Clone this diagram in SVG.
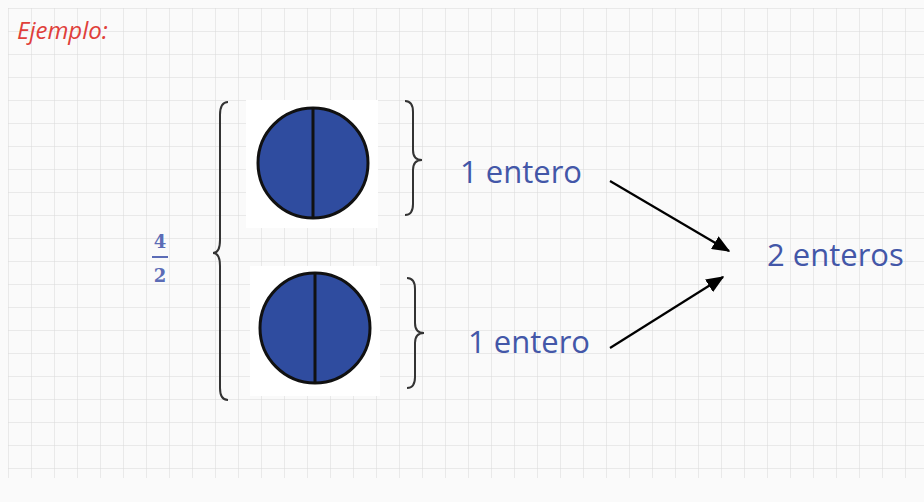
<svg xmlns="http://www.w3.org/2000/svg" width="924" height="502" viewBox="0 0 924 502">
<defs>
<pattern id="grid" x="8" y="8" width="23" height="23" patternUnits="userSpaceOnUse">
<path d="M0 0H23M0 0V23" fill="none" stroke="#d8d8d8" stroke-width="1"/>
</pattern>
<marker id="arr" viewBox="0 0 12 10" refX="11" refY="5" markerWidth="18" markerHeight="15" orient="auto" markerUnits="userSpaceOnUse">
<path d="M0 0L12 5L0 10Z" fill="#000"/>
</marker>
</defs>
<style>
.lbl{font-family:"Open Sans","Liberation Sans",sans-serif;font-size:31px;fill:#4357A8}
.frac{font-family:"DejaVu Serif","Liberation Serif",serif;font-size:18px;font-weight:bold;fill:#5B6CB6}
.circ{fill:#2F4C9F;stroke:#111;stroke-width:3}
.brace{fill:none;stroke:#333;stroke-width:2}
.conn{stroke:#000;stroke-width:2.2;fill:none}
</style>
<rect width="924" height="502" fill="#fafafa"/>
<rect x="8" y="8" width="916" height="470" fill="url(#grid)"/>
<text x="17" y="39" font-family="Open Sans, Liberation Sans, sans-serif" font-style="italic" font-size="24" fill="#E0403A">Ejemplo:</text>
<g id="fraction">
<text class="frac" x="160" y="248" text-anchor="middle">4</text>
<line x1="152" y1="257" x2="168" y2="257" stroke="#5B6CB6" stroke-width="2"/>
<text class="frac" x="160" y="282" text-anchor="middle">2</text>
</g>
<g id="big-brace">
<path class="brace" d="M228 102 Q220 102 220 115 L220 240 Q220 253 213 253 Q220 253 220 266 L220 388 Q220 400 228 400"/>
</g>
<g id="circle-top">
<rect x="246" y="100" width="132" height="128" fill="#fff"/>
<circle class="circ" cx="313" cy="163" r="55"/>
<line x1="313" y1="108" x2="313" y2="218" stroke="#111" stroke-width="3"/>
</g>
<g id="circle-bottom">
<rect x="250" y="266" width="130" height="130" fill="#fff"/>
<circle class="circ" cx="315" cy="328" r="55"/>
<line x1="315" y1="273" x2="315" y2="383" stroke="#111" stroke-width="3"/>
</g>
<g id="brace-top">
<path class="brace" d="M405 101 Q413 101 413 112 L413 150 Q413 160 422 160 Q413 160 413 170 L413 204 Q413 215 405 215"/>
</g>
<g id="brace-bottom">
<path class="brace" d="M407 278 Q415 278 415 289 L415 323 Q415 333 424 333 Q415 333 415 343 L415 377 Q415 388 407 388"/>
</g>
<g id="label-top"><text class="lbl" x="460" y="183">1 entero</text></g>
<g id="label-bottom"><text class="lbl" x="468" y="353">1 entero</text></g>
<g id="label-total"><text class="lbl" x="767" y="266">2 enteros</text></g>
<g id="connectors">
<line class="conn" x1="610" y1="181" x2="729" y2="251" marker-end="url(#arr)"/>
<line class="conn" x1="610" y1="348" x2="723" y2="277" marker-end="url(#arr)"/>
</g>
</svg>
